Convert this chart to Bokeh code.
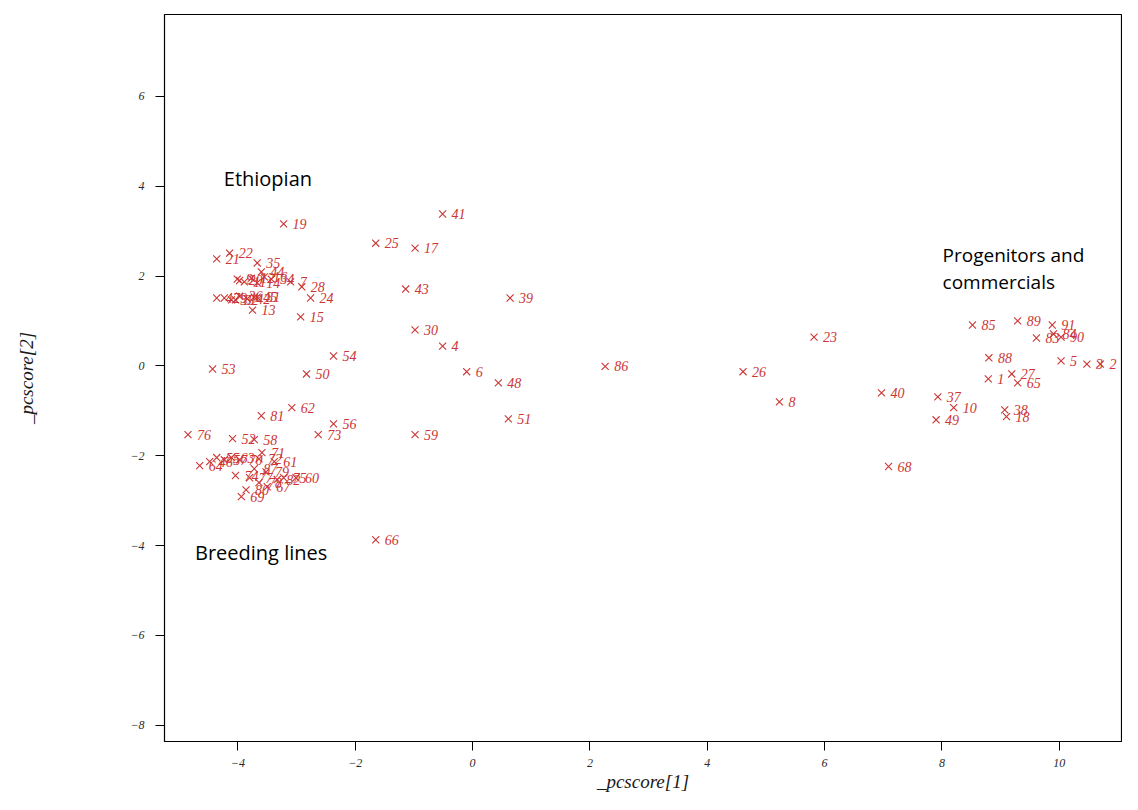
from bokeh.plotting import figure
from bokeh.models import ColumnDataSource, Range1d, Label, FixedTicker
from bokeh.core.properties import value
from bokeh.embed import file_html
from bokeh.resources import INLINE

# ---- data ----
ids = ["19", "41", "25", "17", "21", "22", "35", "44",
       "9", "11", "12", "14", "16", "20", "34", "7", "28",
       "47", "29", "33", "32", "36", "42", "45", "31",
       "24", "13", "15", "43", "39", "30", "4", "54", "50", "6", "48", "51",
       "59", "73", "56", "62", "81", "53", "86", "26", "8", "23", "40", "68",
       "85", "89", "91", "83", "84", "90", "88", "5", "3", "2", "1", "27", "65",
       "37", "10", "49", "38", "18",
       "76", "52", "58", "71", "55", "57", "63", "64", "70", "72", "74", "75",
       "77", "78", "80", "82", "87", "46", "69", "67", "79", "61", "60", "66"]
pc1 = [-3.22, -0.51, -1.65, -0.98, -4.36, -4.14, -3.67, -3.60,
       -4.01, -3.89, -3.77, -3.67, -3.55, -3.97, -3.43, -3.10, -2.91,
       -4.36, -4.23, -4.11, -4.04, -3.97, -3.84, -3.72, -3.67,
       -2.76, -3.75, -2.93, -1.14, 0.64, -0.98, -0.51, -2.37, -2.83, -0.10, 0.44, 0.61,
       -0.98, -2.63, -2.37, -3.08, -3.60, -4.43, 2.26, 4.61, 5.23, 5.82, 6.97, 7.09,
       8.52, 9.29, 9.88, 9.61, 9.90, 10.03, 8.80, 10.03, 10.47, 10.70, 8.79, 9.19, 9.29,
       7.93, 8.20, 7.90, 9.07, 9.10,
       -4.85, -4.09, -3.72, -3.59, -4.36, -4.23, -4.11, -4.65, -3.97, -3.64, -4.04, -3.22,
       -3.80, -3.64, -3.86, -3.33, -3.72, -4.48, -3.94, -3.50, -3.52, -3.38, -3.01, -1.65]
pc2 = [3.16, 3.38, 2.73, 2.62, 2.38, 2.51, 2.29, 2.09,
       1.93, 1.87, 1.95, 1.85, 1.98, 1.90, 1.93, 1.87, 1.76,
       1.51, 1.51, 1.47, 1.47, 1.55, 1.49, 1.53, 1.53,
       1.51, 1.24, 1.09, 1.71, 1.51, 0.80, 0.44, 0.22, -0.18, -0.13, -0.38, -1.18,
       -1.53, -1.53, -1.29, -0.93, -1.11, -0.07, -0.01, -0.13, -0.80, 0.64, -0.60, -2.24,
       0.91, 1.00, 0.91, 0.62, 0.71, 0.64, 0.18, 0.11, 0.04, 0.04, -0.29, -0.18, -0.38,
       -0.69, -0.93, -1.20, -0.98, -1.13,
       -1.53, -1.62, -1.64, -1.93, -2.04, -2.09, -2.04, -2.22, -2.09, -2.07, -2.44, -2.49,
       -2.49, -2.60, -2.76, -2.53, -2.29, -2.13, -2.91, -2.69, -2.36, -2.13, -2.49, -3.87]

x_ticks = [-4, -2, 0, 2, 4, 6, 8, 10]
y_ticks = [-8, -6, -4, -2, 0, 2, 4, 6]

group_labels = ["Ethiopian", "Progenitors and", "commercials", "Breeding lines"]

# ---- figure ----
RED = "#cc3535"
p = figure(width=1122, height=794, output_backend="svg", toolbar_location=None,
           x_range=Range1d(-5.25, 11.06), y_range=Range1d(-8.36, 7.82),
           min_border_left=164, min_border_right=1, min_border_top=14, min_border_bottom=52)
p.background_fill_color = "white"
p.border_fill_color = "white"
p.outline_line_color = "black"
p.outline_line_width = 1.2
p.xgrid.visible = False
p.ygrid.visible = False

src = ColumnDataSource(dict(x=pc1, y=pc2, lab=ids))
p.scatter("x", "y", source=src, marker="x", size=10, line_color=RED, line_width=1.1)
p.text("x", "y", text="lab", source=src, x_offset=9, y_offset=0,
       text_baseline="middle", text_align="left", text_color=RED,
       text_font=value("Liberation Serif"), text_font_style="italic",
       text_font_size="14px")

for ax in (p.xaxis[0], p.yaxis[0]):
    ax.major_tick_in = 0
    ax.major_tick_out = 9
    ax.minor_tick_in = 0
    ax.minor_tick_out = 0
    ax.axis_line_color = "black"
    ax.major_tick_line_color = "black"
    ax.major_label_text_font = "Liberation Serif"
    ax.major_label_text_font_style = "italic"
    ax.major_label_text_font_size = "12px"
    ax.major_label_text_color = "#2a2a2a"
    ax.axis_label_text_font = "Liberation Serif"
    ax.axis_label_text_font_style = "italic"
    ax.axis_label_text_font_size = "19px"
    ax.axis_label_text_color = "#1a1a1a"

p.xaxis[0].ticker = FixedTicker(ticks=x_ticks)
p.yaxis[0].ticker = FixedTicker(ticks=y_ticks)
p.xaxis[0].axis_label = "_pcscore[1]"
p.yaxis[0].axis_label = "_pcscore[2]"
p.xaxis[0].major_label_standoff = 8
p.xaxis[0].axis_label_standoff = 1
p.yaxis[0].major_label_standoff = 11
p.yaxis[0].axis_label_standoff = 90

ann_font = "Open Sans"
p.add_layout(Label(x=-4.24, y=4.16, text=group_labels[0], text_font=ann_font,
                   text_font_size="20px", text_baseline="middle", text_color="black"))
p.add_layout(Label(x=8.01, y=2.47, text=group_labels[1], text_font=ann_font,
                   text_font_size="19px", text_baseline="middle", text_color="black"))
p.add_layout(Label(x=8.01, y=1.87, text=group_labels[2], text_font=ann_font,
                   text_font_size="19px", text_baseline="middle", text_color="black"))
p.add_layout(Label(x=-4.73, y=-4.16, text=group_labels[3], text_font=ann_font,
                   text_font_size="20px", text_baseline="middle", text_color="black"))

open("out.html", "w").write(file_html(p, INLINE))
